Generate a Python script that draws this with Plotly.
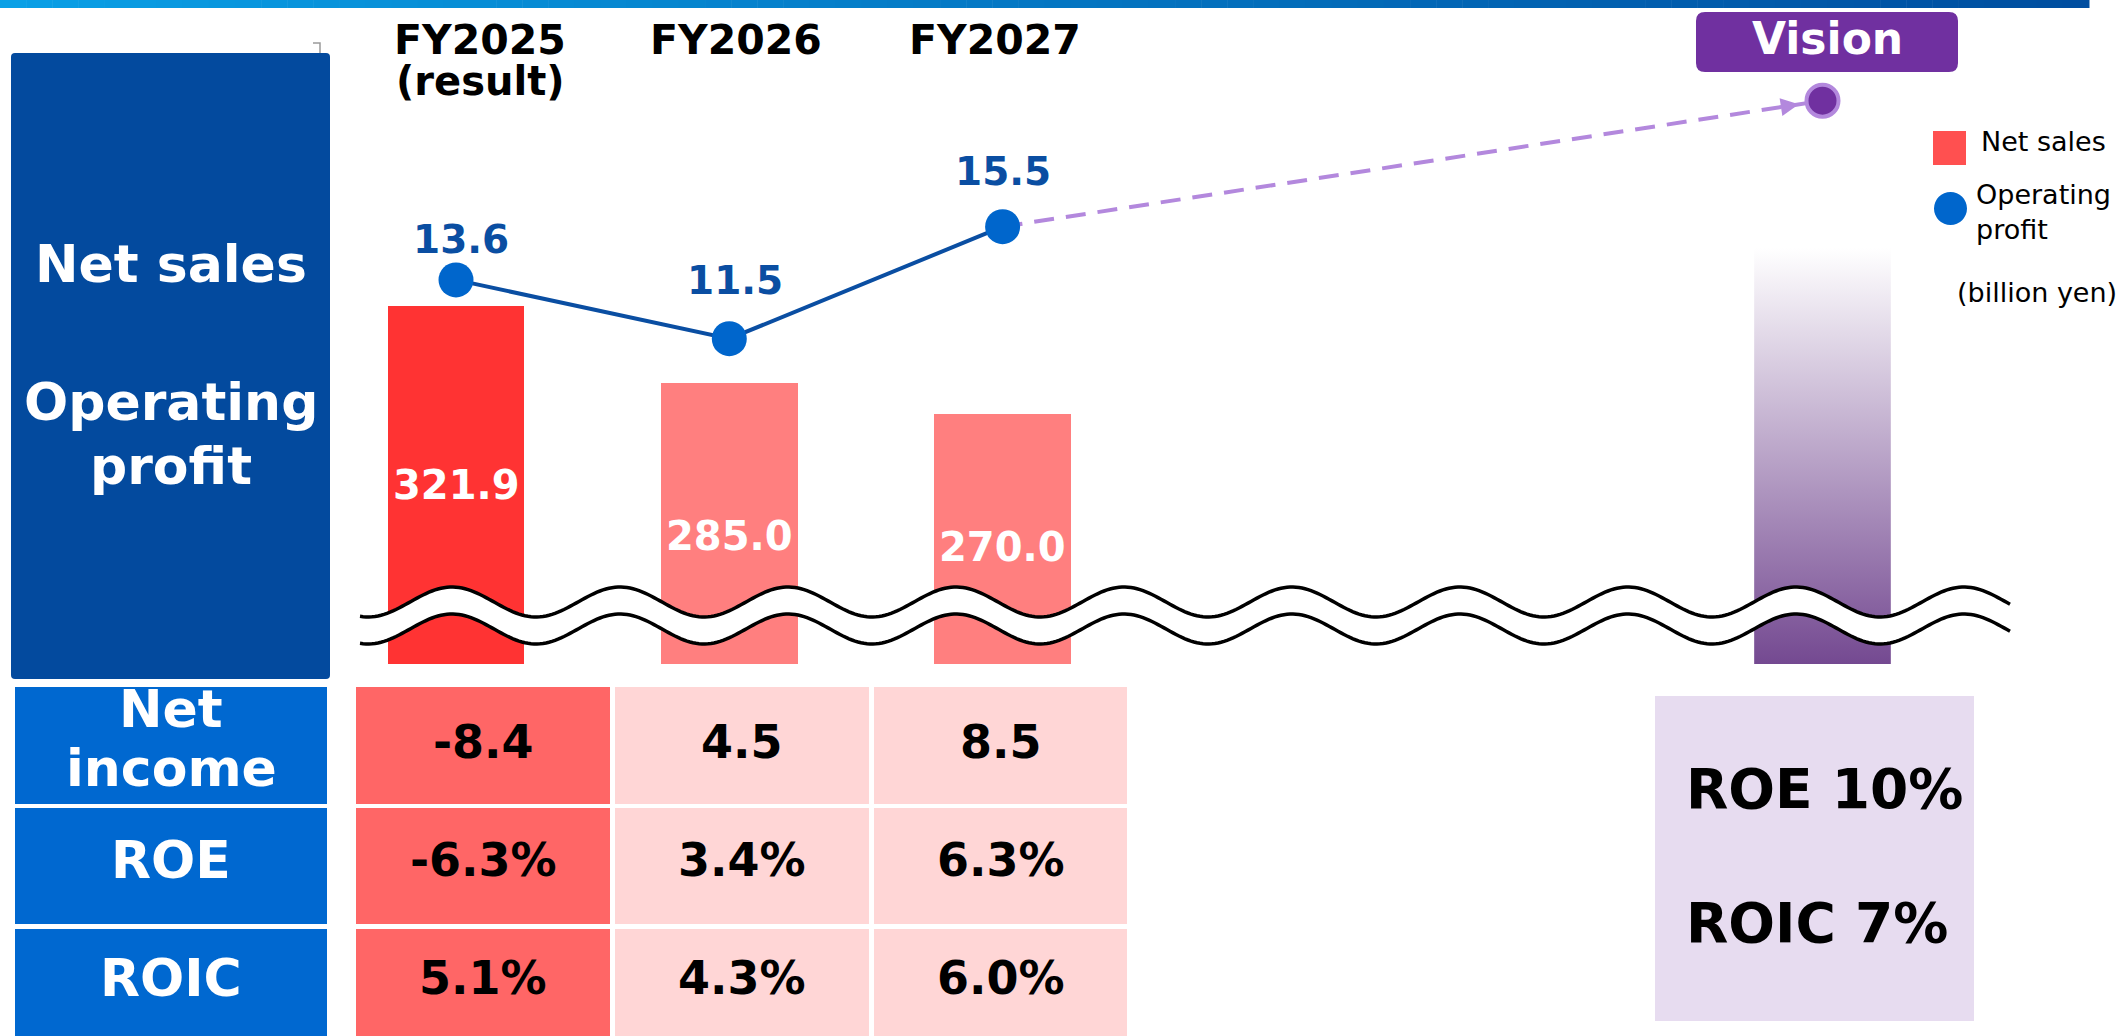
import numpy as np
import plotly.graph_objects as go

# ---------------- data ----------------
years = ["FY2025", "FY2026", "FY2027"]
year_notes = ["(result)", "", ""]
net_sales = [321.9, 285.0, 270.0]          # billion yen (bars)
operating_profit = [13.6, 11.5, 15.5]      # billion yen (line)
net_income = [-8.4, 4.5, 8.5]
roe = [-6.3, 3.4, 6.3]
roic = [5.1, 4.3, 6.0]
is_result = [True, False, False]

vision_title = "Vision"
vision_net_sales = 350.0          # illustrative, faded bar
vision_operating_profit = 20.0    # illustrative target point
vision_targets = ["ROE 10%", "ROIC 7%"]

panel_labels = ["Net sales", "Operating", "profit"]
table_row_labels = [["Net", "income"], ["ROE"], ["ROIC"]]
legend_labels = ["Net sales", "Operating<br>profit"]
unit_label = "(billion yen)"

table_values = [
    [f"{v:.1f}" for v in net_income],
    [f"{v:.1f}%" for v in roe],
    [f"{v:.1f}%" for v in roic],
]

# ---------------- layout constants (pixels) ----------------
W, H = 2116, 1036
FONT = "DejaVu Sans"
X_ORIGIN_PX, X_STEP_PX = 456.0, 273.3
VISION_X = 5
BAR_W = 0.5
SALES_BREAK, BREAK_PX, SALES_PX = 150.0, 664.0, 2.08
PROFIT_ZERO_PX, PROFIT_PX = 660.7, 28.0

C_RESULT = "#ff3333"
C_PLAN = "#ff7f7f"
C_LEGEND_SALES = "#ff5050"
C_PROFIT_LINE = "#0a4ea2"
C_PROFIT_MARK = "#0066cc"
C_PANEL = "#034a9e"
C_HEADER = "#0068d0"
C_CELL_RESULT = "#ff6666"
C_CELL_PLAN = "#ffd6d6"
C_VISION = "#7030a0"
C_VISION_LIGHT = "#b388dd"
C_VISION_BOX = "#e7dcf0"


def px(x):
    return x / W


def py(y):
    return 1 - y / H


def rect(x0, y0, x1, y1, color, layer="below"):
    return dict(type="rect", xref="paper", yref="paper", x0=px(x0), x1=px(x1),
                y0=py(y1), y1=py(y0), fillcolor=color, line=dict(width=0), layer=layer)


def rrect(x0, y0, x1, y1, r, color, layer="below"):
    pts = [
        ("M", [(x0 + r, y0)]), ("L", [(x1 - r, y0)]), ("Q", [(x1, y0), (x1, y0 + r)]),
        ("L", [(x1, y1 - r)]), ("Q", [(x1, y1), (x1 - r, y1)]), ("L", [(x0 + r, y1)]),
        ("Q", [(x0, y1), (x0, y1 - r)]), ("L", [(x0, y0 + r)]), ("Q", [(x0, y0), (x0 + r, y0)]),
    ]
    path = ""
    for cmd, ps in pts:
        path += cmd + " " + " ".join(f"{px(a):.6f},{py(b):.6f}" for a, b in ps) + " "
    path += "Z"
    return dict(type="path", xref="paper", yref="paper", path=path,
                fillcolor=color, line=dict(width=0), layer=layer)


def ann(text, x, y, size, color="black", bold=True, xanchor="center", yanchor="middle",
        family=FONT, align="center"):
    return dict(text=text, x=px(x), y=py(y), xref="paper", yref="paper", showarrow=False,
                xanchor=xanchor, yanchor=yanchor, align=align,
                font=dict(family=family, size=size, color=color, weight="bold" if bold else "normal"))


fig = go.Figure()

xcat = list(range(len(years)))

# Vision bar (gradient)
fig.add_trace(go.Scatter(
    x=[VISION_X - BAR_W / 2, VISION_X + BAR_W / 2, VISION_X + BAR_W / 2, VISION_X - BAR_W / 2],
    y=[SALES_BREAK, SALES_BREAK, vision_net_sales, vision_net_sales],
    fill="toself", mode="lines", line=dict(width=0),
    fillgradient=dict(type="vertical", colorscale=[[0, "#744991"], [1, "#ffffff"]]),
    hoverinfo="skip", showlegend=False))

# Net sales bars
fig.add_trace(go.Bar(
    x=xcat, y=net_sales, width=BAR_W,
    marker=dict(color=[C_RESULT if r else C_PLAN for r in is_result], line=dict(width=0)),
    name="Net sales", showlegend=False))

# Dashed projection to vision
fig.add_trace(go.Scatter(
    x=[xcat[-1], VISION_X], y=[operating_profit[-1], vision_operating_profit], yaxis="y2",
    mode="lines", line=dict(color=C_VISION_LIGHT, width=4, dash="20px,12px"),
    hoverinfo="skip", showlegend=False))

# Operating profit line
fig.add_trace(go.Scatter(
    x=xcat, y=operating_profit, yaxis="y2", mode="lines+markers",
    line=dict(color=C_PROFIT_LINE, width=4),
    marker=dict(size=35, color=C_PROFIT_MARK, line=dict(width=0)),
    name="Operating profit", showlegend=False))

# Vision point
fig.add_trace(go.Scatter(
    x=[VISION_X], y=[vision_operating_profit], yaxis="y2", mode="markers",
    marker=dict(size=32, color=C_VISION, line=dict(width=4, color=C_VISION_LIGHT)),
    showlegend=False))

annotations = []
shapes = []

# arrowhead at the vision point
back = 0.13
annotations.append(dict(
    x=VISION_X, y=vision_operating_profit, xref="x", yref="y2",
    ax=VISION_X - back,
    ay=vision_operating_profit - back * (vision_operating_profit - operating_profit[-1]) / (VISION_X - xcat[-1]),
    axref="x", ayref="y2", text="", showarrow=True, arrowhead=2, arrowsize=0.9,
    arrowwidth=4, arrowcolor=C_VISION_LIGHT, standoff=24))

# net sales labels (inside bars)
SALES_LABEL_YSHIFT = [0, -12, -8]
for i, v in enumerate(net_sales):
    annotations.append(dict(
        x=i, y=(v + SALES_BREAK) / 2, xref="x", yref="y", showarrow=False,
        text=f"{v:.1f}", yshift=SALES_LABEL_YSHIFT[i],
        font=dict(family=FONT, size=40, color="white", weight="bold")))

# operating profit labels
PROFIT_LABEL_YSHIFT = [40, 58, 55]
PROFIT_LABEL_XSHIFT = [5, 6, 0]
for i, v in enumerate(operating_profit):
    annotations.append(dict(
        x=i, y=v, xref="x", yref="y2", showarrow=False, text=f"{v:.1f}",
        yshift=PROFIT_LABEL_YSHIFT[i], xshift=PROFIT_LABEL_XSHIFT[i],
        font=dict(family=FONT, size=39, color=C_PROFIT_LINE, weight="bold")))

# year headers
YEAR_XSHIFT = [24, 7, -8]
for i, (yr, note) in enumerate(zip(years, year_notes)):
    annotations.append(dict(x=i, y=py(40), xref="x", yref="paper", showarrow=False, text=yr,
                            xshift=YEAR_XSHIFT[i], yanchor="middle",
                            font=dict(family=FONT, size=41, color="black", weight="bold")))
    if note:
        annotations.append(dict(x=i, y=py(81), xref="x", yref="paper", showarrow=False, text=note,
                                xshift=YEAR_XSHIFT[i], yanchor="middle",
                                font=dict(family=FONT, size=40, color="black", weight="bold")))

# top gradient strip
n_seg = 80
c0 = np.array([10, 160, 230])
c1 = np.array([0, 78, 160])
strip_end = 2089
for k in range(n_seg):
    t = k / (n_seg - 1)
    c = (c0 + (c1 - c0) * t).astype(int)
    shapes.append(rect(strip_end * k / n_seg, 0, strip_end * (k + 1) / n_seg + 0.5, 8,
                       f"rgb({c[0]},{c[1]},{c[2]})"))

# small bracket mark
shapes.append(dict(type="path", xref="paper", yref="paper",
                   path=f"M {px(313)},{py(43)} L {px(320)},{py(43)} L {px(320)},{py(54)}",
                   line=dict(color="#9a9a9a", width=1.5), layer="below"))

# left panel
shapes.append(rrect(11, 53, 330, 679, 4, C_PANEL))
annotations.append(ann(panel_labels[0], 171, 264, 52, "white"))
annotations.append(ann(panel_labels[1], 171, 402, 52, "white"))
annotations.append(ann(panel_labels[2], 171, 466, 52, "white"))

# table
ROW_BOUNDS = [(687, 804), (808, 924), (929, 1040)]
HEADER_X = (15, 327)
COL_BOUNDS = [(356, 610), (615, 869), (874, 1127)]
ROW_TEXT_Y = [742, 860, 978]
for r, (y0, y1) in enumerate(ROW_BOUNDS):
    shapes.append(rect(HEADER_X[0], y0, HEADER_X[1], y1, C_HEADER))
    for c, (x0, x1) in enumerate(COL_BOUNDS):
        shapes.append(rect(x0, y0, x1, y1, C_CELL_RESULT if is_result[c] else C_CELL_PLAN))
        annotations.append(ann(table_values[r][c], (x0 + x1) / 2, ROW_TEXT_Y[r], 46))
hx = (HEADER_X[0] + HEADER_X[1]) / 2
annotations.append(ann(table_row_labels[0][0], hx, 709, 52, "white"))
annotations.append(ann(table_row_labels[0][1], hx, 768, 52, "white"))
annotations.append(ann(table_row_labels[1][0], hx, 860, 52, "white"))
annotations.append(ann(table_row_labels[2][0], hx, 978, 52, "white"))

# vision box & label
shapes.append(rect(1655, 696, 1974, 1021, C_VISION_BOX))
annotations.append(ann(vision_targets[0], 1684, 789, 55, xanchor="left"))
annotations.append(ann(vision_targets[1], 1684, 923, 55, xanchor="left"))
shapes.append(rrect(1696, 12, 1958, 72, 9, C_VISION))
annotations.append(ann(vision_title, 1827, 39, 44, "white"))

# legend
shapes.append(rect(1933, 131, 1966, 165, C_LEGEND_SALES))
shapes.append(dict(type="circle", xref="paper", yref="paper", x0=px(1934), x1=px(1967),
                   y0=py(225), y1=py(192), fillcolor=C_PROFIT_MARK, line=dict(width=0), layer="below"))
annotations.append(ann(legend_labels[0], 1979, 141, 27, bold=False, xanchor="left"))
annotations.append(ann(legend_labels[1], 1974, 212, 27, bold=False, xanchor="left", align="left"))
annotations.append(ann(unit_label, 1955, 292, 27, bold=False, xanchor="left"))

# wavy axis break
xs = np.arange(360, 2013, 3.0)
upper = 602 - 15 * np.cos(2 * np.pi * (xs - 452) / 168)
lower = upper + 27
fill_path = "M " + " L ".join(f"{px(a):.6f},{py(b):.6f}" for a, b in zip(xs, upper))
fill_path += " L " + " L ".join(f"{px(a):.6f},{py(b):.6f}" for a, b in zip(xs[::-1], lower[::-1])) + " Z"
shapes.append(dict(type="path", xref="paper", yref="paper", path=fill_path,
                   fillcolor="white", line=dict(width=0), layer="above"))
for curve in (upper, lower):
    p = "M " + " L ".join(f"{px(a):.6f},{py(b):.6f}" for a, b in zip(xs, curve))
    shapes.append(dict(type="path", xref="paper", yref="paper", path=p,
                       line=dict(color="black", width=3.5), layer="above"))

fig.update_layout(
    width=W, height=H, margin=dict(l=0, r=0, t=0, b=0, pad=0),
    paper_bgcolor="white", plot_bgcolor="rgba(0,0,0,0)",
    showlegend=False, bargap=0,
    xaxis=dict(range=[-X_ORIGIN_PX / X_STEP_PX, (W - X_ORIGIN_PX) / X_STEP_PX],
               domain=[0, 1], visible=False, fixedrange=True),
    yaxis=dict(domain=[(H - BREAK_PX) / H, 1],
               range=[SALES_BREAK, SALES_BREAK + BREAK_PX / SALES_PX],
               visible=False, fixedrange=True),
    yaxis2=dict(overlaying="y", range=[(PROFIT_ZERO_PX - BREAK_PX) / PROFIT_PX, PROFIT_ZERO_PX / PROFIT_PX],
                visible=False, fixedrange=True),
    shapes=shapes, annotations=annotations,
    font=dict(family=FONT),
)

fig.write_html("out.html", config={"displayModeBar": False},
               post_script="document.body.style.margin='0';document.body.style.overflow='hidden';")
